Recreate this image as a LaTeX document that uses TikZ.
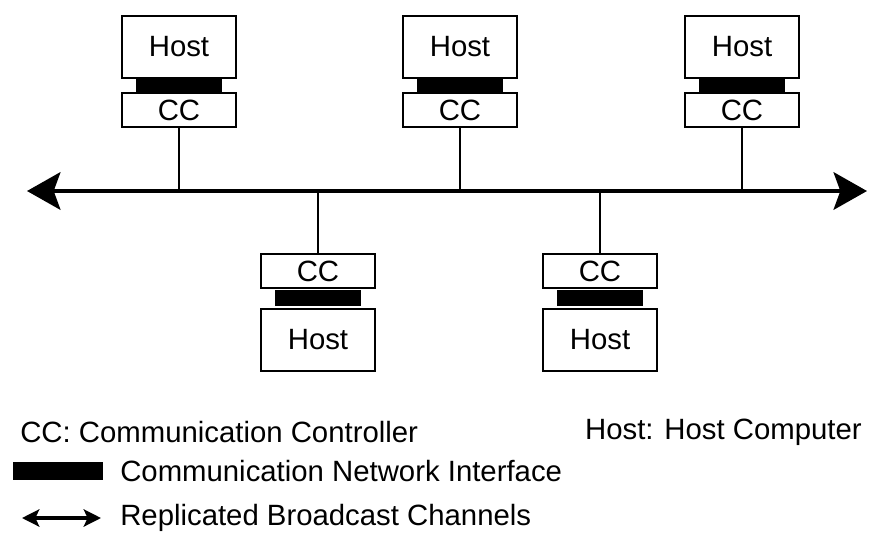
\documentclass[tikz,border=0pt]{standalone}
\usepackage{fontspec}
\setmainfont{Liberation Sans}
\usetikzlibrary{arrows.meta}
\begin{document}
\begin{tikzpicture}[x=0.75pt,y=-0.75pt,
  every node/.style={font=\fontsize{22}{26}\selectfont, inner sep=0pt},
  hostbox/.style={draw, line width=1.5pt, minimum width=85.5pt, minimum height=46.5pt},
  ccbox/.style={draw, line width=1.5pt, minimum width=85.5pt, minimum height=26pt},
  nibar/.style={fill=black, minimum width=65pt, minimum height=10pt},
  drop/.style={line width=1pt},
  bushead/.style={Stealth[length=25pt,width=28pt,inset=5pt]},
  bus/.style={line width=3.5pt, {Stealth[length=25pt,width=28pt,inset=5pt]}-{Stealth[length=25pt,width=28pt,inset=5pt]}},
  legarrow/.style={line width=2.5pt, {Stealth[length=13pt,width=13pt,inset=3pt]}-{Stealth[length=13pt,width=13pt,inset=3pt]}},
  legtext/.style={anchor=west}
]
\useasboundingbox (0,0) rectangle (876,533);

% broadcast bus
\coordinate (busL) at (27,191);
\coordinate (busR) at (867,191);
\draw[bus] (busL) -- (busR);

% upper stations: host above, controller below
\foreach \n/\x in {a/179, b/460, c/742} {
  \node[hostbox] (host\n) at (\x,47) {Host};
  \node[nibar]   (ni\n)   at (\x,86) {};
  \node[ccbox]   (cc\n)   at (\x,110) {CC};
  \coordinate (tap\n) at (\x,191);
  \draw[drop] (cc\n.south) -- (tap\n);
}

% lower stations: controller above, host below
\foreach \n/\x in {d/318, e/600} {
  \node[ccbox]   (cc\n)   at (\x,271) {CC};
  \node[nibar, minimum height=12pt] (ni\n) at (\x,298) {};
  \node[hostbox] (host\n) at (\x,340) {Host};
  \coordinate (tap\n) at (\x,191);
  \draw[drop] (tap\n) -- (cc\n.north);
}

% legend
\node[legtext] (lcc) at (20,432) {CC: Communication Controller};
\node[anchor=east] (lhost) at (862,432) {Host: Host Computer};
\node[fill=black, minimum width=67pt, minimum height=13pt] (lbar) at (58,471) {};
\node[legtext] (lni) at (120,471) {Communication Network Interface};
\coordinate (larL) at (22,518);
\coordinate (larR) at (101,518);
\draw[legarrow] (larL) -- (larR);
\node[legtext] (lch) at (120,518) {Replicated Broadcast Channels};
\end{tikzpicture}
\end{document}
